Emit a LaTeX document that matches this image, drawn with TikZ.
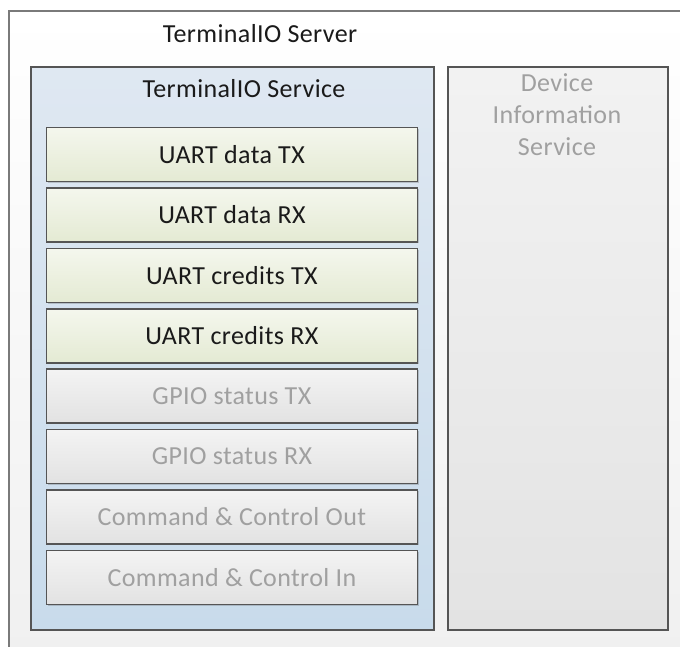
\documentclass[tikz,border=0pt]{standalone}
\usepackage{fontspec}
\setmainfont{Carlito}[LetterSpace=1.5]
\usetikzlibrary{shadows}
\definecolor{edge}{HTML}{555555}
\definecolor{outeredge}{HTML}{7A7A7A}
\definecolor{dimtext}{HTML}{A0A0A0}
\definecolor{darktext}{HTML}{1A1A1A}
\tikzset{
  base/.style={draw=edge, line width=1.8pt, inner sep=0pt, anchor=north west,
    drop shadow={shadow xshift=1.5pt, shadow yshift=-1.5pt, opacity=0.25, fill=black!70}},
  rowbox/.style={base, minimum width=371pt, minimum height=54pt, font=\fontsize{26}{30}\selectfont},
  uartrow/.style={rowbox, top color=white!60!uartc, bottom color=uartc, text=darktext},
  gpiorow/.style={rowbox, top color=grayc!40!white, bottom color=grayc, text=dimtext},
  title/.style={font=\fontsize{26}{30}\selectfont, text=darktext, inner sep=0pt},
}
\definecolor{uartc}{HTML}{E4EAD3}
\definecolor{grayc}{HTML}{E2E2E2}
\definecolor{servtop}{HTML}{DFE8F2}
\definecolor{servbot}{HTML}{C8DBEB}
\begin{document}
\begin{tikzpicture}[x=1pt,y=-1pt]
\useasboundingbox (0,0) rectangle (680,646);
\clip (0,0) rectangle (680,646);
\fill[white] (0,0) rectangle (680,646);
\node[draw=outeredge, line width=1.5pt, anchor=north west, minimum width=700pt, minimum height=660pt,
  inner sep=0pt, top color=white, bottom color=black!6] (server) at (8,10) {};
\node[title] (servertitle) at (260,34) {TerminalIO Server};
\node[base, minimum width=403pt, minimum height=563pt, top color=servtop, bottom color=servbot] (service) at (30,66) {};
\node[title] (servicetitle) at (244,89) {TerminalIO Service};
\node[base, minimum width=220pt, minimum height=563pt, top color=black!5, bottom color=black!11] (dis) at (447,66) {};
\node[title, text=dimtext, align=center, font=\fontsize{26}{32}\selectfont] (distitle) at (557,115) {Device\\Information\\Service};
\node[uartrow] (r1) at (45.5,126.5) {UART data TX};
\node[uartrow] (r2) at (45.5,187) {UART data RX};
\node[uartrow] (r3) at (45.5,247.5) {UART credits TX};
\node[uartrow] (r4) at (45.5,308) {UART credits RX};
\node[gpiorow] (r5) at (45.5,368) {GPIO status TX};
\node[gpiorow] (r6) at (45.5,428.5) {GPIO status RX};
\node[gpiorow] (r7) at (45.5,489) {Command \& Control Out};
\node[gpiorow] (r8) at (45.5,549.5) {Command \& Control In};
\end{tikzpicture}
\end{document}
